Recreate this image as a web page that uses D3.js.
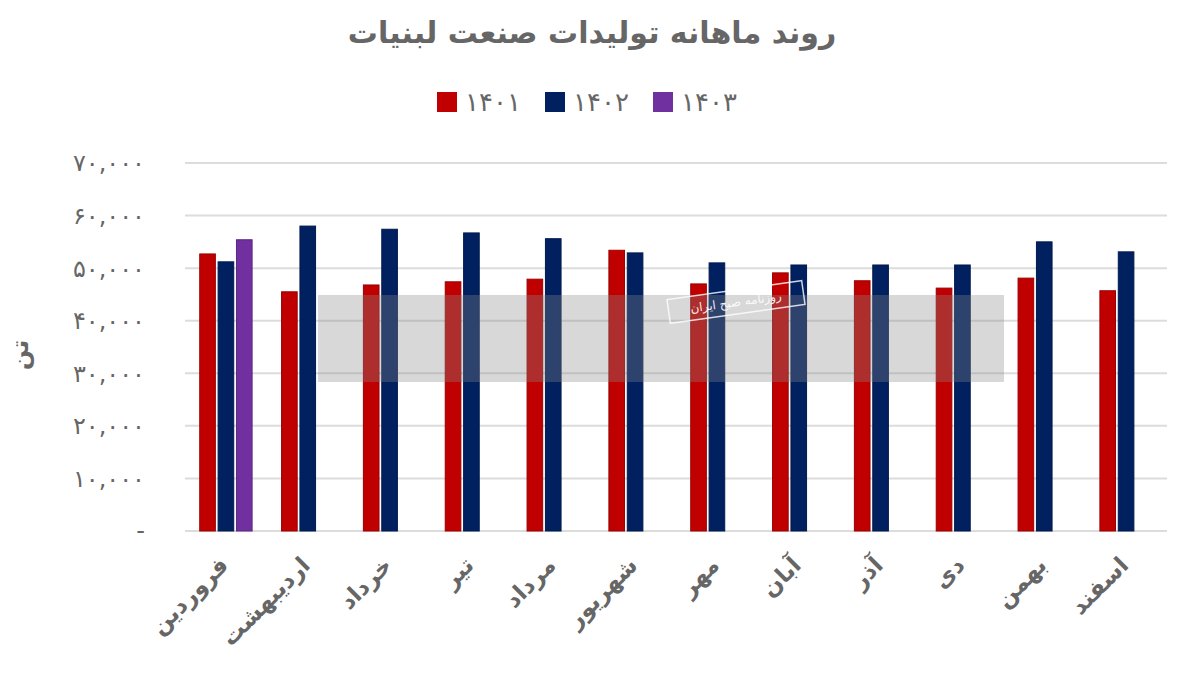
<!DOCTYPE html>
<html><head><meta charset="utf-8">
<script src="https://cdn.jsdelivr.net/npm/d3@7/dist/d3.min.js"></script>
<style>body{margin:0;background:#fff}svg{display:block}text{font-family:"DejaVu Sans",sans-serif}</style>
</head><body>
<svg id="c" width="1200" height="675"></svg>
<script>
const title = "روند ماهانه تولیدات صنعت لبنیات";
const months = ["فروردین","اردیبهشت","خرداد","تیر","مرداد","شهریور","مهر","آبان","آذر","دی","بهمن","اسفند"];
const seriesNames = ["1401","1402","1403"];
const colors = ["#C00000","#002060","#7030A0"];
const v1401 = [52700,45500,46800,47400,47900,53400,47000,49100,47600,46200,48100,45700];
const v1402 = [51200,58000,57400,56700,55600,52900,51000,50600,50600,50600,55000,53100];
const v1403 = [55400,null,null,null,null,null,null,null,null,null,null,null];
const yTicks = [0,10000,20000,30000,40000,50000,60000,70000];
const yTitle = "تن";

const fa = s => String(s).replace(/\d/g, d => "۰۱۲۳۴۵۶۷۸۹"[d]);
const svg = d3.select("#c");
const L = 185, R = 1167, T = 163, B = 531;
const x = d3.scaleBand().domain(months).range([L, R]).paddingInner(0.36).paddingOuter(0.18);
const xs = d3.scaleBand().domain(seriesNames).range([0, x.bandwidth()]).paddingInner(0.15);
const y = d3.scaleLinear().domain([0, 70000]).range([B, T]);
const data = [v1401, v1402, v1403];
const txt = "#666666";

// grid
svg.append("g").selectAll("line").data(yTicks).join("line")
  .attr("x1", L).attr("x2", R).attr("y1", d => y(d)).attr("y2", d => y(d))
  .attr("stroke", "#dcdcdc").attr("stroke-width", 2);

// y labels
svg.append("g").selectAll("text").data(yTicks).join("text")
  .attr("x", 145).attr("y", d => y(d)).attr("dy", "0.35em").attr("text-anchor", "end")
  .attr("fill", txt).attr("font-size", 24)
  .text(d => d === 0 ? "-" : fa(d3.format(",")(d)));

// bars
seriesNames.forEach((s, i) => {
  svg.append("g").selectAll("rect").data(months.map((m, j) => ({m, v: data[i][j]})).filter(d => d.v != null))
    .join("rect")
    .attr("x", d => x(d.m) + xs(s)).attr("width", xs.bandwidth())
    .attr("y", d => y(d.v)).attr("height", d => B - y(d.v))
    .attr("fill", colors[i]).attr("stroke", d3.color(colors[i]).darker(0.6)).attr("stroke-width", 1);
});

// watermark
svg.append("rect").attr("x", 318).attr("y", 295).attr("width", 686).attr("height", 87)
  .attr("fill", "#8a8a8a").attr("opacity", 0.33);
svg.append("g").attr("transform", "translate(736,302) rotate(-8)")
  .call(g => {
    g.append("rect").attr("x", -68).attr("y", -12).attr("width", 136).attr("height", 24)
      .attr("fill", "none").attr("stroke", "#fff").attr("stroke-width", 1.5).attr("opacity", 0.8);
    g.append("text").attr("text-anchor", "middle").attr("dy", "0.35em").attr("font-size", 12)
      .attr("fill", "#fff").attr("opacity", 0.9).text("روزنامه صبح ایران");
  });

// x labels
svg.append("g").selectAll("text").data(months).join("text")
  .attr("transform", d => `translate(${x(d) + x.bandwidth()/2 - 2},${B + 30}) rotate(-45)`)
  .attr("text-anchor", "end").attr("dy", "0.35em")
  .attr("fill", txt).attr("font-size", 23).attr("font-weight", "bold")
  .text(d => d);

// y title
svg.append("text").attr("transform", "translate(20,355) rotate(-90)").attr("text-anchor", "middle")
  .attr("dy", "0.35em").attr("fill", txt).attr("font-size", 24).attr("font-weight", "bold").text(yTitle);

// title
svg.append("text").attr("x", 592).attr("y", 32).attr("text-anchor", "middle").attr("dy", "0.35em")
  .attr("fill", txt).attr("font-size", 30).attr("font-weight", "bold").text(title);

// legend
const lx = [437, 545, 653];
seriesNames.forEach((s, i) => {
  svg.append("rect").attr("x", lx[i]).attr("y", 92).attr("width", 20).attr("height", 20)
    .attr("fill", colors[i]);
  svg.append("text").attr("x", lx[i] + 28).attr("y", 102).attr("dy", "0.35em")
    .attr("fill", txt).attr("font-size", 26).text(fa(s));
});
</script>
</body></html>
